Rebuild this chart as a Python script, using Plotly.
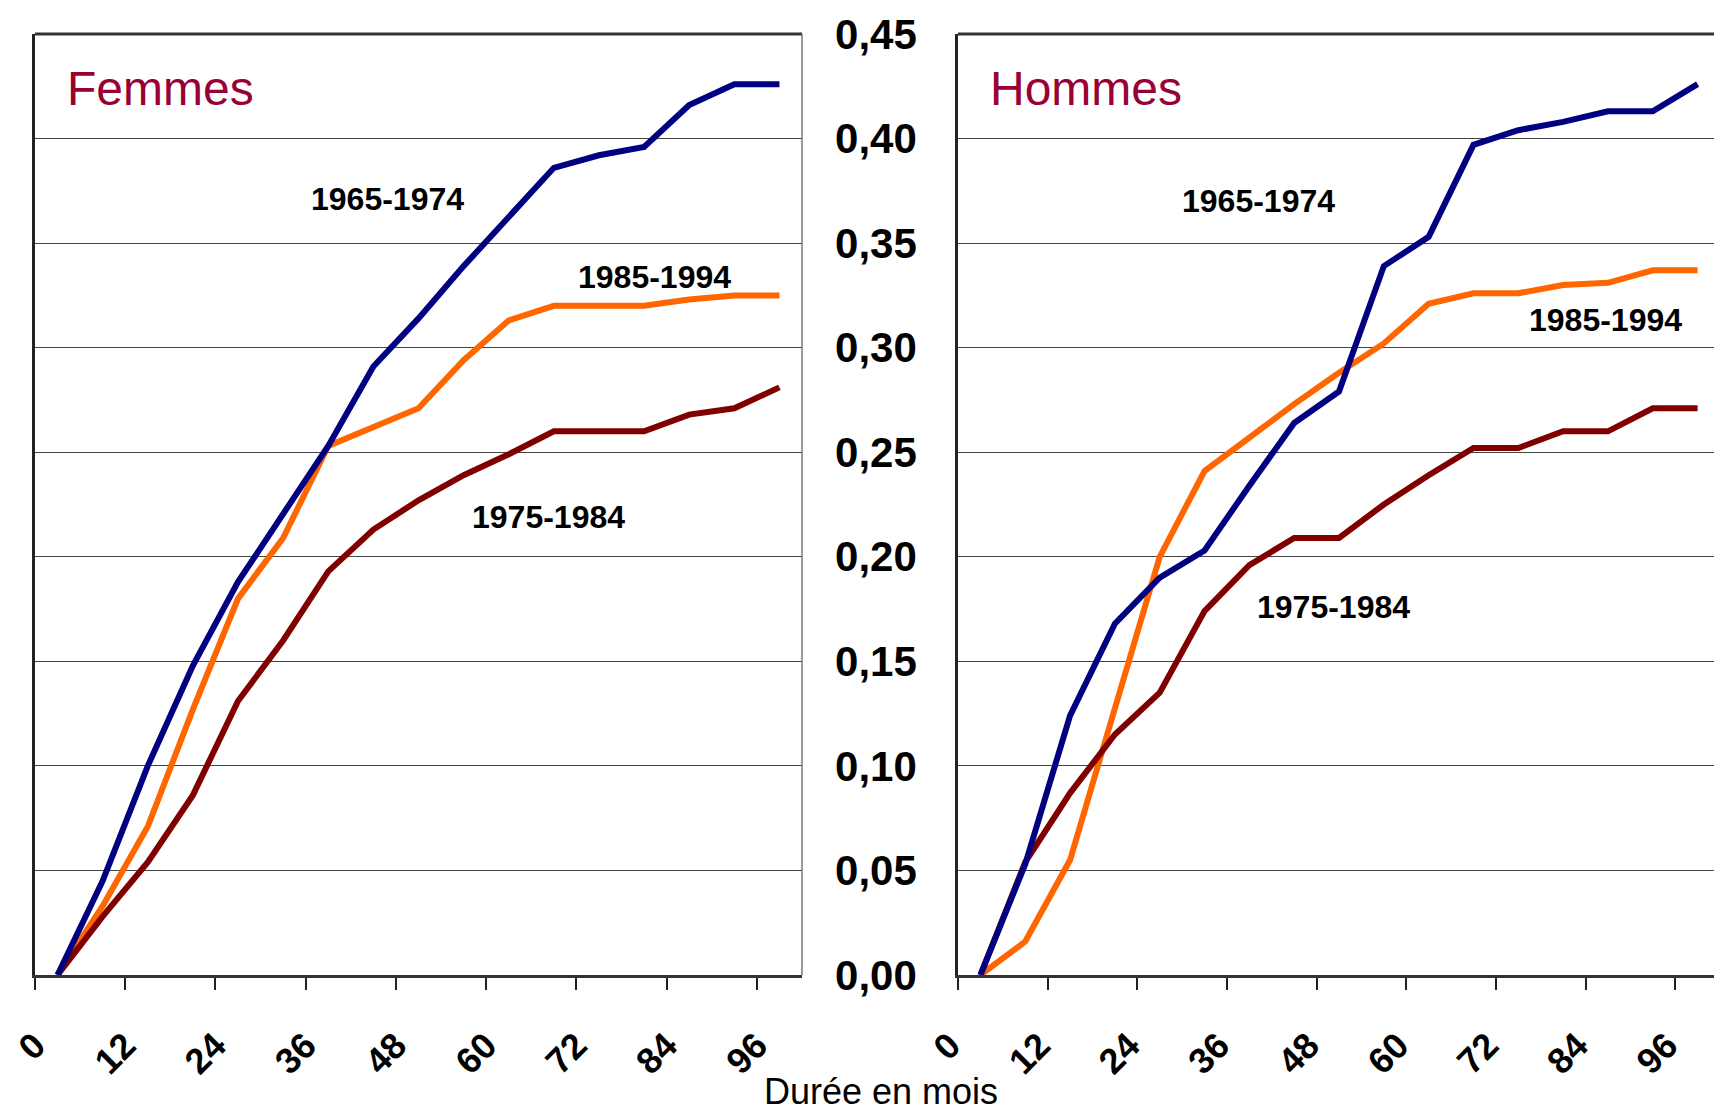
import plotly.graph_objects as go

months = [3, 9, 15, 21, 27, 33, 39, 45, 51, 57, 63, 69, 75, 81, 87, 93, 99]
tick_months = [0, 12, 24, 36, 48, 60, 72, 84, 96]
y_ticks = [0.0, 0.05, 0.10, 0.15, 0.20, 0.25, 0.30, 0.35, 0.40, 0.45]

series_names = ["1965-1974", "1975-1984", "1985-1994"]

femmes_1965 = [0.0, 0.045, 0.100, 0.148, 0.188, 0.220, 0.253, 0.291, 0.314, 0.339,
               0.363, 0.386, 0.392, 0.396, 0.416, 0.426, 0.426]
femmes_1975 = [0.0, 0.028, 0.054, 0.086, 0.131, 0.160, 0.193, 0.213, 0.227, 0.239,
               0.249, 0.260, 0.260, 0.260, 0.268, 0.271, 0.281]
femmes_1985 = [0.0, 0.033, 0.071, 0.127, 0.180, 0.209, 0.253, 0.262, 0.271, 0.294,
               0.313, 0.320, 0.320, 0.320, 0.323, 0.325, 0.325]

hommes_1965 = [0.0, 0.053, 0.124, 0.168, 0.190, 0.203, 0.234, 0.264, 0.279, 0.339,
               0.353, 0.397, 0.404, 0.408, 0.413, 0.413, 0.426]
hommes_1975 = [0.0, 0.054, 0.087, 0.115, 0.135, 0.174, 0.196, 0.209, 0.209, 0.225,
               0.239, 0.252, 0.252, 0.260, 0.260, 0.271, 0.271]
hommes_1985 = [0.0, 0.016, 0.055, 0.128, 0.200, 0.241, 0.257, 0.273, 0.288, 0.302,
               0.321, 0.326, 0.326, 0.330, 0.331, 0.337, 0.337]

colors = {"1965-1974": "#000080", "1975-1984": "#800000", "1985-1994": "#FF6600"}

FONT = "Liberation Sans, Arial, sans-serif"
W, H = 1714, 1105  # page body has an 8px default margin

fig = go.Figure()

panels = [
    ("x", "y", {"1965-1974": femmes_1965, "1975-1984": femmes_1975, "1985-1994": femmes_1985}),
    ("x2", "y2", {"1965-1974": hommes_1965, "1975-1984": hommes_1975, "1985-1994": hommes_1985}),
]
for xa, ya, data in panels:
    for name in ["1985-1994", "1975-1984", "1965-1974"]:
        fig.add_trace(go.Scatter(
            x=months, y=data[name], mode="lines", name=name, xaxis=xa, yaxis=ya,
            line=dict(color=colors[name], width=6), showlegend=False,
        ))

xcommon = dict(
    range=[0, 102], tickvals=tick_months, ticks="outside", ticklen=12, tickwidth=1.5,
    tickcolor="#222", tickangle=-45, showgrid=False, zeroline=False,
    showline=True, linecolor="#333", linewidth=3,
    tickfont=dict(family=FONT, size=36, color="black", weight="bold"),
    ticklabelstandoff=20,
)
ycommon = dict(
    range=[0, 0.45], tickvals=y_ticks, tickformat=".2f", showgrid=True,
    gridcolor="#444", gridwidth=1, zeroline=False, showline=True, linecolor="#222",
    linewidth=2.5, ticks="inside", ticklen=8, tickcolor="#444",
    tickfont=dict(family=FONT, size=42, color="black", weight="bold"),
)

fig.update_layout(
    width=W, height=H,
    margin=dict(l=0, r=0, t=26, b=138, autoexpand=False),
    paper_bgcolor="white", plot_bgcolor="white",
    separators=", ",
    xaxis=dict(domain=[27 / W, 794 / W], anchor="y", ticklabelshift=0, **xcommon),
    xaxis2=dict(domain=[950 / W, 1712 / W], anchor="y2", ticklabelshift=-8, **xcommon),
    yaxis=dict(domain=[0, 1], anchor="x", showticklabels=False, **ycommon),
    yaxis2=dict(domain=[0, 1], anchor="x2", showticklabels=True, ticklabelstandoff=30, **ycommon),
)

# top and right frame borders
for xd, yd in [("x domain", "y domain"), ("x2 domain", "y2 domain")]:
    fig.add_shape(type="line", xref=xd, yref=yd, x0=0, x1=1, y0=1, y1=1,
                  line=dict(color="#333", width=3))
    fig.add_shape(type="line", xref=xd, yref=yd, x0=1, x1=1, y0=0, y1=1,
                  line=dict(color="#777", width=1.5))

label_font = dict(family=FONT, size=32, color="black", weight="bold")
title_font = dict(family=FONT, size=48, color="#990033")

annots = [
    ("x", "y", 4.0, 0.424, "Femmes", title_font, "left"),
    ("x2", "y2", 4.0, 0.424, "Hommes", title_font, "left"),
    ("x", "y", 46.9, 0.371, "1965-1974", label_font, "center"),
    ("x", "y", 82.4, 0.334, "1985-1994", label_font, "center"),
    ("x", "y", 68.3, 0.219, "1975-1984", label_font, "center"),
    ("x2", "y2", 40.2, 0.370, "1965-1974", label_font, "center"),
    ("x2", "y2", 86.7, 0.313, "1985-1994", label_font, "center"),
    ("x2", "y2", 50.3, 0.176, "1975-1984", label_font, "center"),
]
for xr, yr, x, y, txt, f, anc in annots:
    fig.add_annotation(xref=xr, yref=yr, x=x, y=y, text=txt, showarrow=False,
                       font=f, xanchor=anc, yanchor="middle")

fig.add_annotation(xref="paper", yref="paper", x=873 / W, y=-0.124,
                   text="Durée en mois", showarrow=False,
                   font=dict(family=FONT, size=36, color="black"),
                   xanchor="center", yanchor="middle")

fig.write_html("out.html")
